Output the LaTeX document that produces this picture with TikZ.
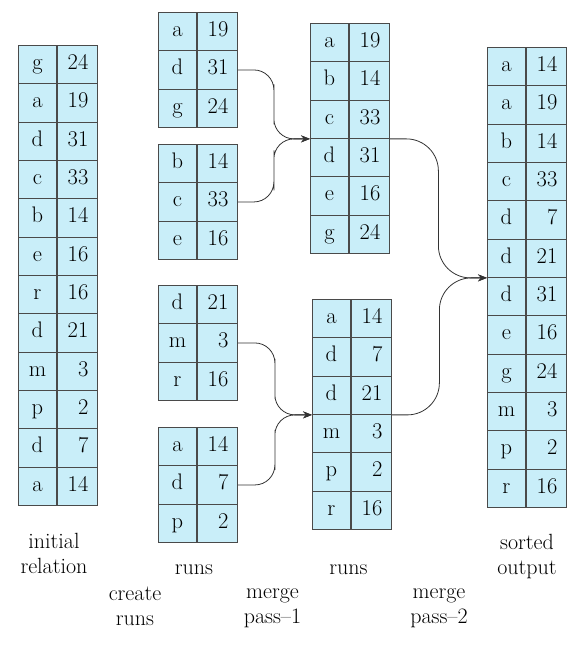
\documentclass[tikz,border=0pt]{standalone}
\usepackage{fontspec}
\usetikzlibrary{arrows.meta,calc}
\definecolor{cellblue}{HTML}{C9EEF9}
\definecolor{cellline}{HTML}{4A4A4A}

\begin{document}
\begin{tikzpicture}[x=1pt,y=-1pt,
        keycell/.style={draw=cellline,fill=cellblue,line width=0.9pt,minimum width=38pt,minimum height=38.33pt,inner sep=0pt,anchor=north west,text height=15pt,text depth=5pt,font=\fontsize{22.5}{25}\selectfont},
        valcell/.style={keycell,minimum width=40pt,text width=22pt,inner xsep=9pt,align=right},
        lbl/.style={inner sep=0pt,align=center,font=\fontsize{22}{25}\selectfont,execute at begin node=\strut,execute at end node=\strut},
        link/.style={draw=black!80,line width=0.8pt,rounded corners=20pt,-{Stealth[length=9pt,width=7pt,inset=3pt]}}]

        \useasboundingbox (0,0) rectangle (586,648);

        %initial relation
        \foreach \k/\v [count=\i] in {g/24,a/19,d/31,c/33,b/14,e/16,r/16,d/21,m/3,p/2,d/7,a/14} {
            \node[keycell] (init-\i-k) at (18,{45+(\i-1)*38.33}) {\k};
            \node[valcell] (init-\i-v) at (init-\i-k.north east) {\v};
        }

        %runs
        \foreach \k/\v [count=\i] in {a/19,d/31,g/24} {
            \node[keycell] (runa-\i-k) at (158,{12+(\i-1)*38.33}) {\k};
            \node[valcell] (runa-\i-v) at (runa-\i-k.north east) {\v};
        }
        \foreach \k/\v [count=\i] in {b/14,c/33,e/16} {
            \node[keycell] (runb-\i-k) at (158,{144+(\i-1)*38.33}) {\k};
            \node[valcell] (runb-\i-v) at (runb-\i-k.north east) {\v};
        }
        \foreach \k/\v [count=\i] in {d/21,m/3,r/16} {
            \node[keycell] (runc-\i-k) at (158,{285+(\i-1)*38.33}) {\k};
            \node[valcell] (runc-\i-v) at (runc-\i-k.north east) {\v};
        }
        \foreach \k/\v [count=\i] in {a/14,d/7,p/2} {
            \node[keycell] (rund-\i-k) at (158,{427+(\i-1)*38.33}) {\k};
            \node[valcell] (rund-\i-v) at (rund-\i-k.north east) {\v};
        }

        %merged runs
        \foreach \k/\v [count=\i] in {a/19,b/14,c/33,d/31,e/16,g/24} {
            \node[keycell] (mrga-\i-k) at (310,{23+(\i-1)*38.33}) {\k};
            \node[valcell] (mrga-\i-v) at (mrga-\i-k.north east) {\v};
        }
        \foreach \k/\v [count=\i] in {a/14,d/7,d/21,m/3,p/2,r/16} {
            \node[keycell] (mrgb-\i-k) at (312,{299+(\i-1)*38.33}) {\k};
            \node[valcell] (mrgb-\i-v) at (mrgb-\i-k.north east) {\v};
        }

        %sorted output
        \foreach \k/\v [count=\i] in {a/14,a/19,b/14,c/33,d/7,d/21,d/31,e/16,g/24,m/3,p/2,r/16} {
            \node[keycell] (sorted-\i-k) at (487,{47+(\i-1)*38.33}) {\k};
            \node[valcell] (sorted-\i-v) at (sorted-\i-k.north east) {\v};
        }

        %merge pass-1 arrows
        \draw[link] (runa-2-v.east) -| ($(runa-2-v.east)!.5!(mrga-3-k.south west)$) |- (mrga-3-k.south west);
        \draw[link] (runb-2-v.east) -| ($(runb-2-v.east)!.5!(mrga-3-k.south west)$) |- (mrga-3-k.south west);
        \draw[link] (runc-2-v.east) -| ($(runc-2-v.east)!.5!(mrgb-3-k.south west)$) |- (mrgb-3-k.south west);
        \draw[link] (rund-2-v.east) -| ($(rund-2-v.east)!.5!(mrgb-3-k.south west)$) |- (mrgb-3-k.south west);

        %merge pass-2 arrows
        \draw[link,rounded corners=32pt] (mrga-3-v.south east) -| ($(mrga-3-v.south east)!.5!(sorted-6-k.south west)$) |- (sorted-6-k.south west);
        \draw[link,rounded corners=32pt] (mrgb-3-v.south east) -| ($(mrgb-3-v.south east)!.5!(sorted-6-k.south west)$) |- (sorted-6-k.south west);

        %labels
        \node[lbl] (initlbl) at (54,557.5) {initial\\relation};
        \node[lbl] (runlbl) at (194,569) {runs};
        \node[lbl] (createlbl) at (135,609.5) {create\\runs};
        \node[lbl] (passalbl) at (272.5,609.5) {merge\\pass--1};
        \node[lbl] (mrglbl) at (348.5,569) {runs};
        \node[lbl] (passblbl) at (439,609.5) {merge\\pass--2};
        \node[lbl] (sortlbl) at (527,558.5) {sorted\\output};
\end{tikzpicture}
\end{document}
